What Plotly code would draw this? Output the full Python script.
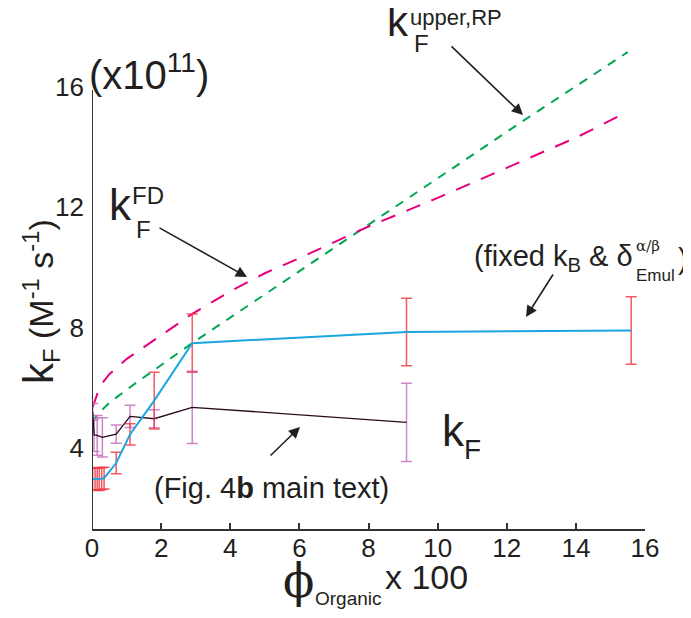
import plotly.graph_objects as go

# ---------------- data (values x 10^11) ----------------
phi_fixed = [0.02, 0.09, 0.15, 0.21, 0.28, 0.35, 0.7, 1.1, 1.8, 2.9, 9.1, 15.6]
kF_fixed = [2.97, 2.97, 2.97, 2.97, 2.98, 3.0, 3.5, 4.45, 5.57, 7.48, 7.85, 7.9]
kF_fixed_err = [0.36, 0.36, 0.36, 0.38, 0.36, 0.36, 0.36, 0.35, 0.94, 0.97, 1.12, 1.12]

phi_main = [0.02, 0.06, 0.15, 0.3, 0.7, 1.1, 1.8, 2.9, 9.1]
kF_main = [5.2, 4.43, 4.42, 4.35, 4.46, 5.05, 4.97, 5.35, 4.85]
kF_main_err = [0.28, 0.55, 0.66, 0.65, 0.3, 0.37, 0.3, 1.2, 1.3]

phi_fd = [0.02, 0.1, 0.2, 0.3, 0.5, 1.0, 1.5, 2.0, 2.9, 4.0, 5.0, 6.0, 8.0, 10.0, 12.0, 14.0, 15.5]
kF_fd = [5.35, 5.65, 5.95, 6.15, 6.45, 6.95, 7.35, 7.75, 8.45, 9.2, 9.8, 10.3, 11.35, 12.3, 13.3, 14.3, 15.16]

phi_rp = [0.0, 0.15, 0.5, 1.2, 2.9, 5.0, 8.0, 10.0, 12.4, 15.5]
kF_rp = [4.83, 5.1, 5.5, 6.1, 7.48, 9.1, 11.4, 12.95, 14.8, 17.14]

x_ticks = [0, 2, 4, 6, 8, 10, 12, 14, 16]
y_ticks = [4, 8, 12, 16]

# ---------------- geometry (the page body adds an 8 px offset) ----------------
OFF = 8
W, H = 691 - OFF, 618 - OFF
L, R, T, B = 92 - OFF, 46, 47 - OFF, 89
X0, X1 = 0.0, 16.0
Y0, Y1 = 1.31, 17.31
pw, ph = W - L - R, H - T - B


def sx(px):   # screen px -> paper x
    return (px - OFF - L) / pw


def sy(py):   # screen py -> paper y
    return 1 - (py - OFF - T) / ph


def py2y(py):
    return Y1 - (py - OFF - T) / ph * (Y1 - Y0)


TXT = "#231F20"
FONT = "Liberation Sans, Arial, sans-serif"

fig = go.Figure()

fig.add_trace(go.Scatter(
    x=phi_rp, y=kF_rp, mode="lines",
    line=dict(color="#00A651", width=2, dash="9px,8px"),
    hoverinfo="skip", showlegend=False))

fig.add_trace(go.Scatter(
    x=phi_fd, y=kF_fd, mode="lines",
    line=dict(color="#E6007E", width=2, dash="15px,12px"),
    hoverinfo="skip", showlegend=False))

fig.add_trace(go.Scatter(
    x=phi_main, y=kF_main, mode="lines",
    line=dict(color="#2B0A1E", width=1.3),
    error_y=dict(type="data", array=kF_main_err, visible=True,
                 color="rgba(200,120,195,0.9)", thickness=1.5, width=5.5),
    hoverinfo="skip", showlegend=False))

fig.add_trace(go.Scatter(
    x=phi_fixed, y=kF_fixed, mode="lines",
    line=dict(color="#1BA6E0", width=2),
    error_y=dict(type="data", array=kF_fixed_err, visible=True,
                 color="rgba(240,60,70,0.85)", thickness=1.5, width=5.5),
    hoverinfo="skip", showlegend=False))

# y-axis line (axis range extends above it for the dashed curves)
fig.add_shape(type="line", xref="x", yref="y", x0=0, x1=0, y0=Y0, y1=py2y(90),
              line=dict(color="#333333", width=2))

ann = []


def text(px, py, s, size, xanchor="left", family=FONT, angle=0):
    ann.append(dict(x=sx(px), y=sy(py), xref="paper", yref="paper", text=s,
                    showarrow=False, xanchor=xanchor, yanchor="middle",
                    textangle=angle,
                    font=dict(size=size, color=TXT, family=family)))


def arrow(tail, tip):
    ann.append(dict(x=sx(tip[0]), y=sy(tip[1]), xref="paper", yref="paper",
                    ax=tail[0] - tip[0], ay=tail[1] - tip[1],
                    text="", showarrow=True, arrowhead=2, arrowsize=1.4,
                    arrowwidth=1.6, arrowcolor=TXT, standoff=0))


# multiplier
text(87, 72, "(x10<sup>11</sup>)", 40)

# axis titles
text(40, 302, '<span style="font-size:42px">k</span><sub>F</sub> (M<sup>-1</sup> s<sup>-1</sup>)',
     34, xanchor="center", angle=-90)
text(298, 581, "ϕ", 46, xanchor="center", family="DejaVu Serif, serif")
text(313, 598, "Organic", 19)
text(383, 577, "x 100", 34)

# k_F^{upper,RP}
text(385, 22, "k", 42)
text(408, 18, "upper,RP", 22)
text(412, 43, "F", 24)
arrow((450, 45), (523, 115))

# k_F^{FD}
text(107, 205, "k", 44)
text(130, 195, "FD", 24)
text(134, 229, "F", 24)
arrow((158, 227), (247, 277))

# fixed kB & delta
text(472, 258, "(fixed k<sub>B</sub> &amp; δ", 29)
text(634, 246, "α/β", 15, family="DejaVu Serif, serif")
text(634, 275, "Emul", 17)
text(676, 259, ")", 29)
arrow((554, 273), (526, 317))

# k_F main
text(440, 430, "k", 44)
text(462, 449, "F", 28)

text(152, 488, "(Fig. 4<b>b</b> main text)", 29)
arrow((269, 457), (300, 427))

fig.update_layout(
    width=W, height=H,
    margin=dict(l=L, r=R, t=T, b=B, pad=0),
    paper_bgcolor="white", plot_bgcolor="white",
    showlegend=False,
    annotations=ann,
    xaxis=dict(range=[X0, X1], tickvals=x_ticks, ticks="inside", ticklen=6,
               tickwidth=1.5, tickcolor="#333333",
               showline=True, linecolor="#333333", linewidth=2,
               showgrid=False, zeroline=False, ticklabelstandoff=-5,
               tickfont=dict(size=26, color=TXT, family=FONT)),
    yaxis=dict(range=[Y0, Y1], tickvals=y_ticks, ticks="",
               showline=False, showgrid=False, zeroline=False,
               ticklabelstandoff=7,
               tickfont=dict(size=26, color=TXT, family=FONT)),
)

fig.write_html("out.html")
